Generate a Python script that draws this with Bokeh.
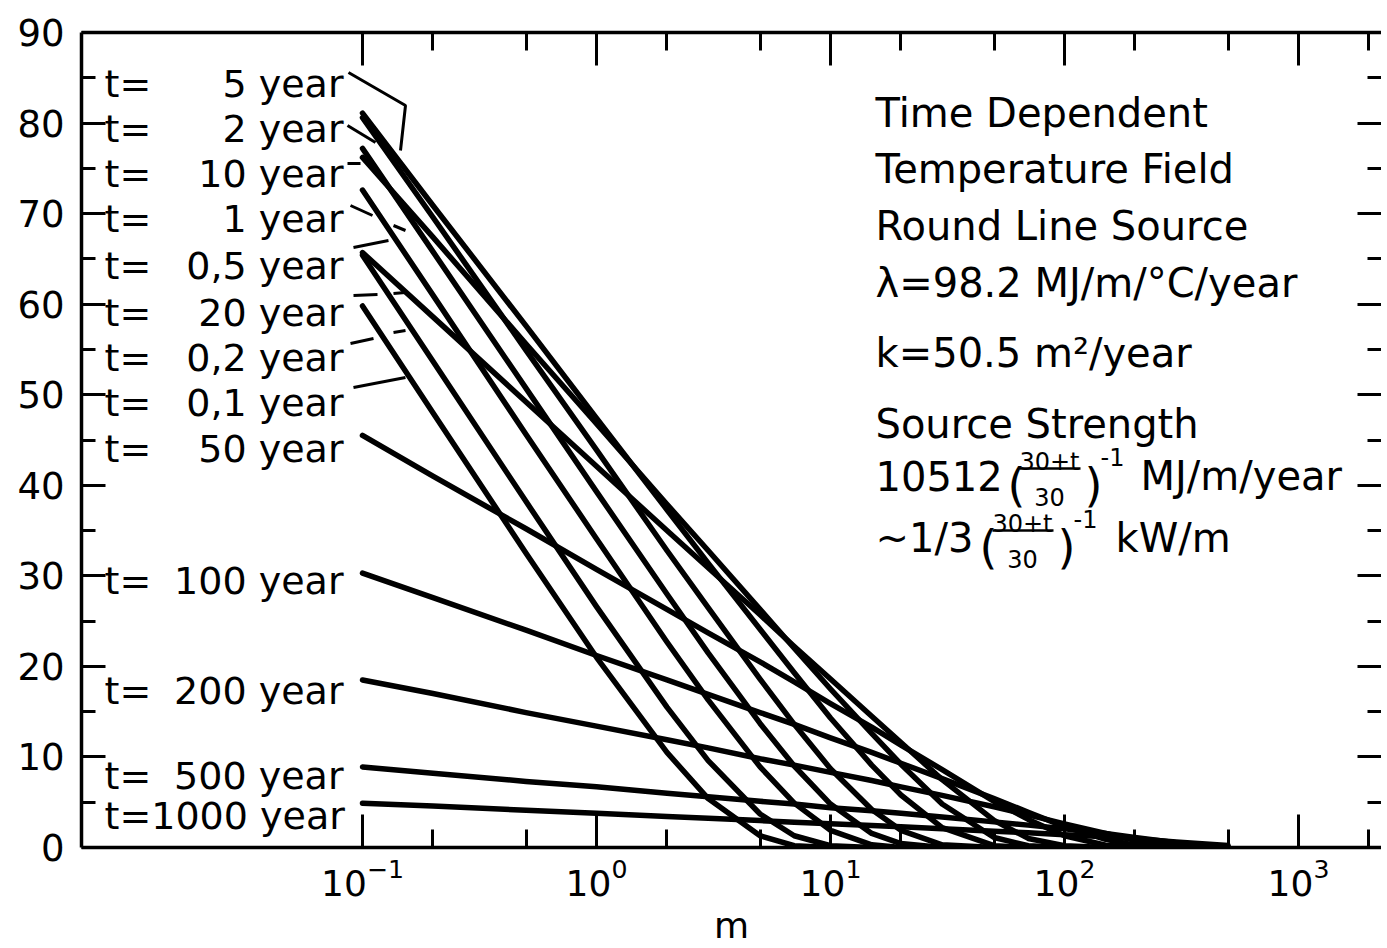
from bokeh.plotting import figure
from bokeh.models import LogAxis, LinearAxis, FixedTicker, Label, LogTickFormatter, Range1d
from bokeh.embed import file_html
from bokeh.resources import INLINE

# ---------------- data ----------------
r_grid = [0.1, 0.2, 0.5, 1, 2, 3, 5, 7, 10, 15, 20, 30, 50, 70, 100, 150, 200, 300, 500]

T_t0_1 = [59.8, 48.0, 32.5, 21.0, 10.5, 5.4, 1.3, 0.2, 0.0]
T_t0_2 = [65.4, 53.7, 38.2, 26.6, 15.5, 9.6, 3.7, 1.3, 0.2, 0.0]
T_t0_5 = [72.6, 61.0, 45.6, 34.1, 22.7, 16.3, 8.9, 4.9, 1.9, 0.3, 0.0]
T_t1 = [77.2, 65.8, 50.7, 39.3, 28.0, 21.5, 13.7, 9.0, 4.8, 1.55, 0.43, 0.0]
T_t2 = [80.6, 69.6, 54.9, 43.9, 32.8, 26.5, 18.6, 13.6, 8.7, 4.2, 1.9, 0.3, 0.0]
T_t5 = [81.1, 70.9, 57.6, 47.4, 37.3, 31.4, 24.1, 19.3, 14.3, 9.1, 5.8, 2.2, 0.2, 0.0]
T_t10 = [76.2, 67.4, 55.6, 46.8, 37.9, 32.8, 26.3, 22.0, 17.5, 12.6, 9.2, 4.8, 1.1, 0.2, 0.0]
T_t20 = [65.7, 58.6, 49.2, 42.1, 35.0, 30.9, 25.7, 22.2, 18.6, 14.5, 11.6, 7.5, 3.0, 1.0, 0.2, 0.0]
T_t50 = [45.5, 41.0, 35.2, 30.7, 26.3, 23.7, 20.5, 18.3, 15.9, 13.3, 11.3, 8.6, 5.1, 3.1, 1.3, 0.25, 0.02]
T_t100 = [30.3, 27.6, 24.0, 21.2, 18.5, 16.9, 14.9, 13.6, 12.1, 10.5, 9.3, 7.6, 5.4, 3.9, 2.3, 0.9, 0.25, 0.0]
T_t200 = [18.5, 17.0, 14.9, 13.4, 11.9, 11.0, 9.8, 9.1, 8.3, 7.4, 6.7, 5.75, 4.5, 3.6, 2.6, 1.55, 0.8, 0.12, 0.0]
T_t500 = [8.9, 8.2, 7.3, 6.7, 6.0, 5.6, 5.1, 4.8, 4.4, 4.05, 3.77, 3.36, 2.83, 2.47, 2.06, 1.54, 1.11, 0.53, 0.07]
T_t1000 = [4.9, 4.57, 4.11, 3.77, 3.42, 3.22, 2.97, 2.80, 2.62, 2.42, 2.28, 2.07, 1.80, 1.62, 1.42, 1.18, 0.97, 0.62, 0.22]

series = [T_t0_1, T_t0_2, T_t0_5, T_t1, T_t2, T_t5, T_t10, T_t20,
          T_t50, T_t100, T_t200, T_t500, T_t1000]

label_values = ["5 year", "2 year", "10 year", "1 year", "0,5 year", "20 year",
                "0,2 year", "0,1 year", "50 year", "100 year", "200 year",
                "500 year", "1000 year"]

x_major = [0.1, 1, 10, 100, 1000]
x_minor = [0.2, 0.5, 2, 5, 20, 50, 200, 500, 2000]
y_major = [0, 10, 20, 30, 40, 50, 60, 70, 80, 90]
y_minor = [5, 15, 25, 35, 45, 55, 65, 75, 85]

# ---------------- layout ----------------
FONT = "DejaVu Sans"
FRAME_L, FRAME_T, FRAME_W, FRAME_H = 81, 32, 1300, 815
DEC = 234.0            # px per decade
X01_PX = 362           # page x of 0.1
Y0_PX = FRAME_T + FRAME_H   # page y of 0
lx0 = -1 - (X01_PX - FRAME_L) / DEC


def xd(px):
    return 10 ** (-1 + (px - X01_PX) / DEC)


def yd(py):
    return (Y0_PX - py) * 90.0 / FRAME_H


p = figure(frame_width=FRAME_W, frame_height=FRAME_H,
           x_axis_type="log",
           x_range=Range1d(10 ** lx0, 10 ** (lx0 + FRAME_W / DEC)),
           y_range=Range1d(0, 90),
           toolbar_location=None, output_backend="svg",
           min_border_left=FRAME_L, min_border_top=FRAME_T,
           min_border_bottom=0, min_border_right=0,
           outline_line_color=None, background_fill_color="white",
           border_fill_color="white")
p.xgrid.visible = False
p.ygrid.visible = False


def style(ax, horiz):
    ax.axis_line_color = "black"
    ax.axis_line_width = 3.5
    ax.major_tick_line_color = "black"
    ax.minor_tick_line_color = "black"
    ax.major_tick_line_width = 3
    ax.minor_tick_line_width = 3
    ax.major_tick_out = 0
    ax.minor_tick_out = 0
    if horiz:
        ax.major_tick_in = 33
        ax.minor_tick_in = 18
    else:
        ax.major_tick_in = 24
        ax.minor_tick_in = 14
    ax.major_label_text_font = FONT
    ax.major_label_text_color = "black"


def hide_labels(ax):
    ax.major_label_text_font_size = "2px"
    ax.major_label_text_alpha = 0
    ax.major_label_standoff = 0


bx = p.xaxis[0]
bx.ticker = FixedTicker(ticks=x_major, minor_ticks=x_minor)
bx.formatter = LogTickFormatter()
style(bx, True)
bx.major_label_text_font_size = "36px"
bx.major_label_standoff = 10
bx.axis_label = "m"
bx.axis_label_text_font = FONT
bx.axis_label_text_font_style = "normal"
bx.axis_label_text_font_size = "36px"
bx.axis_label_text_color = "black"
bx.axis_label_standoff = 6

ly = p.yaxis[0]
ly.ticker = FixedTicker(ticks=y_major, minor_ticks=y_minor)
style(ly, False)
ly.major_label_text_font_size = "37px"
ly.major_label_standoff = 17

top = LogAxis(ticker=FixedTicker(ticks=x_major, minor_ticks=x_minor),
              formatter=LogTickFormatter())
style(top, True)
hide_labels(top)
p.add_layout(top, "above")

right = LinearAxis(ticker=FixedTicker(ticks=y_major, minor_ticks=y_minor))
style(right, False)
right.axis_line_color = None
hide_labels(right)
p.add_layout(right, "right")

# ---------------- curves ----------------
for vals in series:
    p.line(r_grid[:len(vals)], vals, line_color="black", line_width=5.5,
           line_join="round", line_cap="round")


# ---------------- text helpers ----------------
def txt(s, px, py, size="40px", align="left"):
    p.add_layout(Label(x=xd(px), y=yd(py), text=s, text_font=FONT,
                       text_font_size=size, text_baseline="alphabetic",
                       text_align=align, text_color="black"))


# ---------------- curve labels ----------------
label_baselines = [83, 128, 173, 218, 265, 312, 357, 402, 448, 580, 690, 775, 815]
for s, by in zip(label_values, label_baselines):
    if s == "1000 year":
        txt("t=" + s, 104, by, "38px")
    else:
        txt("t=", 104, by, "38px")
        txt(s, 343, by, "38px", "right")

leaders = [
    [(348, 72), (405, 105), (400, 150)],
    [(347, 125), (375, 142)],
    [(347, 163), (360, 163)],
    [(350, 205), (372, 215)],
    [(393, 225), (405, 230)],
    [(353, 247), (388, 240)],
    [(353, 295), (377, 294)],
    [(393, 293), (405, 292)],
    [(350, 343), (373, 338)],
    [(393, 332), (405, 330)],
    [(353, 387), (405, 377)],
]
p.multi_line([[xd(a) for a, b in seg] for seg in leaders],
             [[yd(b) for a, b in seg] for seg in leaders],
             line_color="black", line_width=3)

# ---------------- text block ----------------
txt("Time Dependent", 875, 112)
txt("Temperature Field", 875, 168)
txt("Round Line Source", 875, 225)
txt("λ=98.2 MJ/m/°C/year", 875, 282)
txt("k=50.5 m²/year", 875, 352)
txt("Source Strength", 875, 423)

txt("10512", 875, 475)
txt("(", 1007, 484, "46px")
txt("30+t", 1049, 461, "24px", "center")
txt("30", 1049, 496, "24px", "center")
txt(")", 1084, 484, "46px")
txt("-1", 1100, 456, "24px")
txt("MJ/m/year", 1140, 475)

txt("~1/3", 875, 537)
txt("(", 979, 546, "46px")
txt("30+t", 1022, 523, "24px", "center")
txt("30", 1022, 558, "24px", "center")
txt(")", 1057, 546, "46px")
txt("-1", 1073, 518, "24px")
txt("kW/m", 1115, 537)

bars = [[(1019, 468), (1080, 468)], [(992, 530), (1053, 530)]]
p.multi_line([[xd(a) for a, b in s] for s in bars],
             [[yd(b) for a, b in s] for s in bars],
             line_color="black", line_width=2.5)

open("out.html", "w").write(file_html(p, INLINE, title="Time Dependent Temperature Field"))
